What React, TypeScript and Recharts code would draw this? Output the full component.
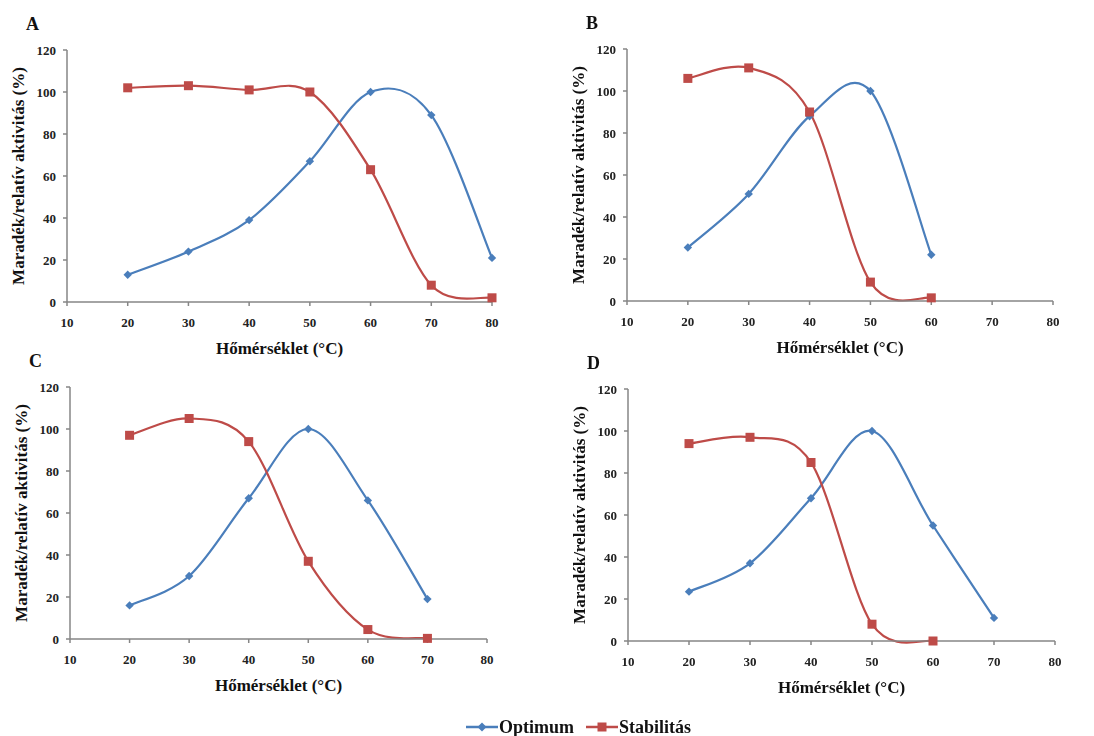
import React from "react"
import { LineChart, Line, XAxis, YAxis } from "recharts"

// Hőmérséklet (°C) értékek és aktivitások a négy panelhez
const TEMPS_A = [20, 30, 40, 50, 60, 70, 80]
const OPT_A = [13, 24, 39, 67, 100, 89, 21]
const STAB_A = [102, 103, 101, 100, 63, 8, 2]

const TEMPS_B = [20, 30, 40, 50, 60]
const OPT_B = [25.5, 51, 88, 100, 22]
const STAB_B = [106, 111, 90, 9, 1.5]

const TEMPS_C = [20, 30, 40, 50, 60, 70]
const OPT_C = [16, 30, 67, 100, 66, 19]
const STAB_C = [97, 105, 94, 37, 4.5, 0.3]

const TEMPS_D = [20, 30, 40, 50, 60, 70]
const OPT_D = [23.5, 37, 68, 100, 55, 11]
const STAB_D = [94, 97, 85, 8, 0, null]

const X_TICKS = [10, 20, 30, 40, 50, 60, 70, 80]
const Y_TICKS = [0, 20, 40, 60, 80, 100, 120]

const BLUE = "#4A7EBB"
const RED = "#BE4B48"
const AXIS = "#868686"
const FONT = '"Liberation Serif", "Times New Roman", serif'
const TEXT = { fontFamily: FONT, fontWeight: 700 }

// Excel-like smoothing (Catmull-Rom via cubic beziers)
function excelCurve(context: any) {
  let pts: number[][] = []
  return {
    areaStart() {},
    areaEnd() {},
    lineStart() {
      pts = []
    },
    point(x: number, y: number) {
      pts.push([+x, +y])
    },
    lineEnd() {
      if (!pts.length) return
      context.moveTo(pts[0][0], pts[0][1])
      for (let i = 0; i < pts.length - 1; i++) {
        const p0 = pts[i - 1] ?? pts[i]
        const p1 = pts[i]
        const p2 = pts[i + 1]
        const p3 = pts[i + 2] ?? pts[i + 1]
        context.bezierCurveTo(
          p1[0] + (p2[0] - p0[0]) / 6,
          p1[1] + (p2[1] - p0[1]) / 6,
          p2[0] - (p3[0] - p1[0]) / 6,
          p2[1] - (p3[1] - p1[1]) / 6,
          p2[0],
          p2[1]
        )
      }
    },
  }
}

const diamondDot = (p: any) => {
  if (p.cy == null || p.value == null) return <g key={`d${p.index}`} />
  const s = 4.2
  return (
    <path
      key={`d${p.index}`}
      d={`M${p.cx},${p.cy - s}L${p.cx + s},${p.cy}L${p.cx},${p.cy + s}L${p.cx - s},${p.cy}Z`}
      fill={BLUE}
    />
  )
}

const squareDot = (p: any) => {
  if (p.cy == null || p.value == null) return <g key={`s${p.index}`} />
  const s = 4.5
  return <rect key={`s${p.index}`} x={p.cx - s} y={p.cy - s} width={s * 2} height={s * 2} fill={RED} />
}

const XTick = ({ x, y, payload }: any) => (
  <text x={x} y={y + 19} textAnchor="middle" fontSize={13} fill="#222" style={TEXT}>
    {payload.value}
  </text>
)

const YTick = ({ x, y, payload }: any) => (
  <text x={x - 5} y={y + 4.5} textAnchor="end" fontSize={13} fill="#222" style={TEXT}>
    {payload.value}
  </text>
)

interface PanelProps {
  letter: string
  ox: number
  oy: number
  plotW: number
  temps: number[]
  opt: (number | null)[]
  stab: (number | null)[]
}

const Y_W = 67
const TOP = 50
const PLOT_H = 252
const X_H = 60
const RIGHT = 30

function Panel({ letter, ox, oy, plotW, temps, opt, stab }: PanelProps) {
  const data = temps.map((t, i) => ({ t, opt: opt[i], stab: stab[i] }))
  return (
    <div style={{ position: "absolute", left: ox, top: oy }}>
      <div
        style={{
          position: "absolute",
          left: 26,
          top: 14,
          ...TEXT,
          fontSize: 18,
          color: "#111",
          lineHeight: "20px",
        }}
      >
        {letter}
      </div>
      <LineChart
        width={Y_W + plotW + RIGHT}
        height={TOP + PLOT_H + X_H}
        data={data}
        margin={{ top: TOP, right: RIGHT, left: 0, bottom: 0 }}
      >
        <XAxis
          dataKey="t"
          type="number"
          domain={[10, 80]}
          ticks={X_TICKS}
          interval={0}
          height={X_H}
          stroke={AXIS}
          strokeWidth={1.5}
          tickSize={4}
          tick={<XTick />}
          label={{
            content: ({ viewBox }: any) => (
              <text
                x={viewBox.x + viewBox.width / 2}
                y={viewBox.y + 52}
                textAnchor="middle"
                fontSize={17}
                fill="#111"
                style={TEXT}
              >
                Hőmérséklet (°C)
              </text>
            ),
          }}
        />
        <YAxis
          type="number"
          domain={[0, 120]}
          ticks={Y_TICKS}
          width={Y_W}
          stroke={AXIS}
          strokeWidth={1.5}
          tickSize={4}
          tick={<YTick />}
          label={{
            content: ({ viewBox }: any) => {
              const x = viewBox.x + 24
              const y = viewBox.y + viewBox.height / 2
              return (
                <text
                  x={x}
                  y={y}
                  transform={`rotate(-90 ${x} ${y})`}
                  textAnchor="middle"
                  fontSize={17}
                  fill="#111"
                  style={TEXT}
                >
                  Maradék/relatív aktivitás (%)
                </text>
              )
            },
          }}
        />
        <Line
          dataKey="opt"
          type={excelCurve as any}
          stroke={BLUE}
          strokeWidth={2.2}
          dot={diamondDot}
          activeDot={false}
          isAnimationActive={false}
        />
        <Line
          dataKey="stab"
          type={excelCurve as any}
          stroke={RED}
          strokeWidth={2.2}
          dot={squareDot}
          activeDot={false}
          isAnimationActive={false}
        />
      </LineChart>
    </div>
  )
}

function LegendItem({ color, label, square }: { color: string; label: string; square: boolean }) {
  return (
    <span style={{ display: "inline-flex", alignItems: "center", marginRight: 12 }}>
      <svg width={32} height={12}>
        <line x1={0} y1={6} x2={32} y2={6} stroke={color} strokeWidth={2.5} />
        {square ? (
          <rect x={11.5} y={1.5} width={9} height={9} fill={color} />
        ) : (
          <path d="M16,1.5L20.5,6L16,10.5L11.5,6Z" fill={color} />
        )}
      </svg>
      <span style={{ ...TEXT, fontSize: 18, color: "#111", marginLeft: 1 }}>{label}</span>
    </span>
  )
}

export default function App() {
  return (
    <div style={{ position: "fixed", left: 0, top: 0, width: 1094, height: 736, background: "#fff" }}>
      <Panel letter="A" ox={0} oy={0} plotW={425} temps={TEMPS_A} opt={OPT_A} stab={STAB_A} />
      <Panel letter="B" ox={560} oy={-1} plotW={426} temps={TEMPS_B} opt={OPT_B} stab={STAB_B} />
      <Panel letter="C" ox={3} oy={337} plotW={417} temps={TEMPS_C} opt={OPT_C} stab={STAB_C} />
      <Panel letter="D" ox={561} oy={339} plotW={427} temps={TEMPS_D} opt={OPT_D} stab={STAB_D} />
      <div
        style={{
          position: "absolute",
          left: 466,
          top: 716,
          display: "flex",
          alignItems: "center",
          whiteSpace: "nowrap",
          lineHeight: "22px",
        }}
      >
        <LegendItem color={BLUE} label="Optimum" square={false} />
        <LegendItem color={RED} label="Stabilitás" square={true} />
      </div>
    </div>
  )
}
